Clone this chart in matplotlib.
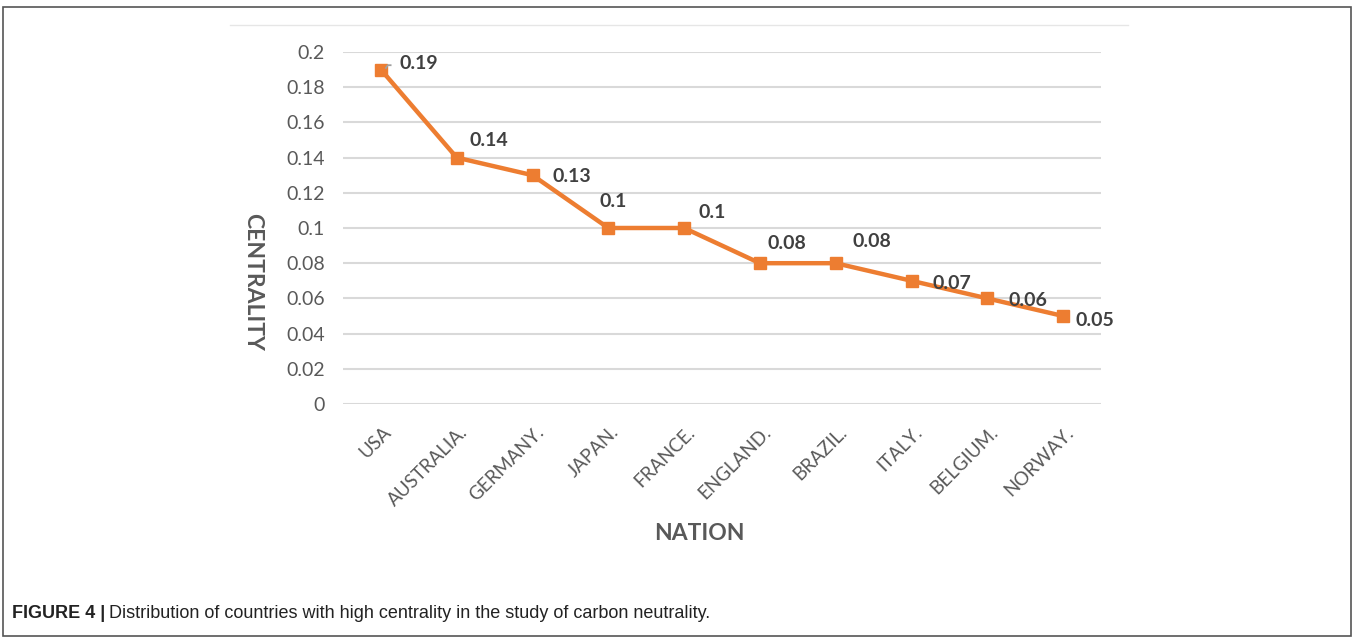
import matplotlib.pyplot as plt
import matplotlib.transforms as mtransforms
from matplotlib.patches import Rectangle
from matplotlib.lines import Line2D

nations = ["USA", "AUSTRALIA.", "GERMANY.", "JAPAN.", "FRANCE.",
           "ENGLAND.", "BRAZIL.", "ITALY.", "BELGIUM.", "NORWAY."]
centrality = [0.19, 0.14, 0.13, 0.10, 0.10, 0.08, 0.08, 0.07, 0.06, 0.05]
yticks = [0, 0.02, 0.04, 0.06, 0.08, 0.1, 0.12, 0.14, 0.16, 0.18, 0.2]

# label offsets in pixels (dx, dy), placed one by one so they avoid the line
label_offsets = [(19, 6), (13, 17), (20, -1), (-9, 27), (14, 16),
                 (8, 20), (17, 22), (21, -3), (21, -2), (12, -4)]

W, H = 1354, 637
fig = plt.figure(figsize=(W / 100, H / 100), dpi=100)
plt.rcParams['font.family'] = ['Lato', 'DejaVu Sans']

gray = "#595959"
orange = "#ED7D31"

# outer frame and chart area top edge
fig.patches.append(Rectangle((3 / W, 1 - 636 / H), 1348 / W, 629 / H,
                             transform=fig.transFigure, fill=False,
                             edgecolor="#555555", linewidth=1.2))
fig.lines.append(Line2D([230 / W, 1128 / W], [1 - 25 / H, 1 - 25 / H],
                        transform=fig.transFigure, color="#e6e6e6", linewidth=1))

ax = fig.add_axes([343 / W, 1 - 404 / H, 758 / W, 352 / H])
x = list(range(len(nations)))
ax.plot(x, centrality, color=orange, linewidth=3.2, marker="s",
        markersize=8.5, zorder=3)

for i, v in enumerate(centrality):
    dx, dy = label_offsets[i]
    ax.annotate(f"{v:g}", (i, v), xytext=(dx, dy), textcoords="offset pixels",
                ha="left", va="center", fontsize=14, fontweight="bold",
                color="#404040", zorder=4)

# short leader line for the first label
ax.plot([0.06, 0.09, 0.14], [0.1905, 0.1925, 0.1925], color="#a0a0a0",
        linewidth=1.3, zorder=4, solid_capstyle="butt")

ax.set_xlim(-0.5, len(nations) - 0.5)
ax.set_ylim(0, 0.2)
ax.set_yticks(yticks)
ax.set_yticklabels([f"{t:g}" for t in yticks])
ax.set_xticks(x)
ax.set_xticklabels(nations, rotation=45, ha="right", va="top",
                   rotation_mode="anchor")
ax.tick_params(axis="y", length=0, pad=13, labelsize=14, labelcolor=gray)
ax.tick_params(axis="x", length=0, pad=14, labelsize=13.5, labelcolor=gray)
shift = mtransforms.ScaledTranslation(0.02, 0, fig.dpi_scale_trans)
for lbl in ax.get_xticklabels():
    lbl.set_transform(lbl.get_transform() + shift)
ax.grid(axis="y", color="#d9d9d9", linewidth=1.5)
ax.set_axisbelow(True)
for s in ax.spines.values():
    s.set_visible(False)

fig.text(253 / W, 1 - 282 / H, "CENTRALITY", rotation=-90, ha="center",
         va="center", fontsize=16.5, fontweight="bold", color=gray)
fig.text(699 / W, 1 - 534 / H, "NATION", ha="center", va="center",
         fontsize=16.5, fontweight="bold", color=gray)

# caption
cap_font = ['Liberation Sans', 'DejaVu Sans']
t1 = fig.text(12 / W, 1 - 613 / H, "FIGURE 4 |", ha="left", va="center",
              fontsize=13, fontweight="bold", color="#222222", family=cap_font)
fig.canvas.draw()
bb = t1.get_window_extent()
fig.text((bb.x1 + 4) / W, 1 - 613 / H,
         "Distribution of countries with high centrality in the study of carbon neutrality.",
         ha="left", va="center", fontsize=13, color="#222222", family=cap_font)

fig.savefig("out.png", dpi=100, facecolor="white")
